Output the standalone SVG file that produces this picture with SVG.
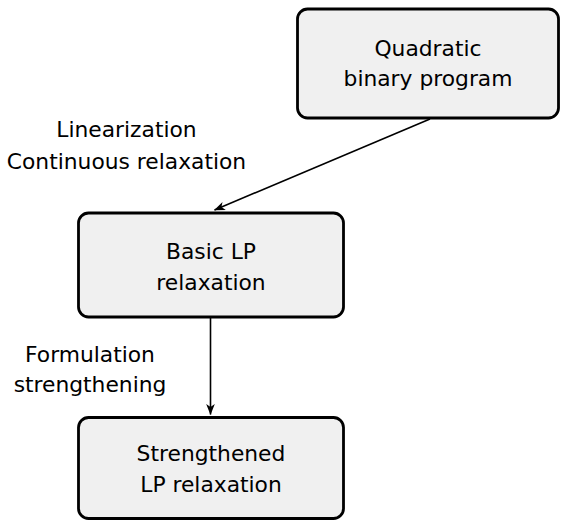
<svg xmlns="http://www.w3.org/2000/svg" width="561" height="520" viewBox="0 0 561 520">
<style>
.box{fill:#f0f0f0;stroke:#000;stroke-width:2.8}
.t{font-family:"DejaVu Sans",sans-serif;font-size:21.8px;fill:#000;text-anchor:middle}
.c{stroke:#000;stroke-width:1.6;fill:none;marker-end:url(#ah)}
</style>
<defs>
<marker id="ah" markerUnits="userSpaceOnUse" markerWidth="13" markerHeight="10" viewBox="-12 -5 13 10" refX="0" refY="0" orient="auto">
<path d="M0.5,0 L-10.5,-4.3 L-7.5,0 L-10.5,4.3 Z" fill="#000"/>
</marker>
</defs>
<rect width="561" height="520" fill="#fff"/>
<g id="connectors">
<line class="c" x1="430" y1="119" x2="214.5" y2="210"/>
<line class="c" x1="210.5" y1="318" x2="210.5" y2="414.5"/>
<text class="t" x="126.5" y="137">Linearization</text>
<text class="t" x="126.5" y="169">Continuous relaxation</text>
<text class="t" x="90" y="362">Formulation</text>
<text class="t" x="90" y="392">strengthening</text>
</g>
<g id="qbp">
<rect class="box" x="297.5" y="9" width="261" height="109" rx="10"/>
<text class="t" x="428" y="55.5">Quadratic</text>
<text class="t" x="428" y="86">binary program</text>
</g>
<g id="basic">
<rect class="box" x="78.5" y="213" width="265" height="104" rx="10"/>
<text class="t" x="211" y="258.5">Basic LP</text>
<text class="t" x="211" y="289.5">relaxation</text>
</g>
<g id="strong">
<rect class="box" x="78.5" y="417.5" width="265" height="101" rx="10"/>
<text class="t" x="211" y="461">Strengthened</text>
<text class="t" x="211" y="492">LP relaxation</text>
</g>
</svg>
